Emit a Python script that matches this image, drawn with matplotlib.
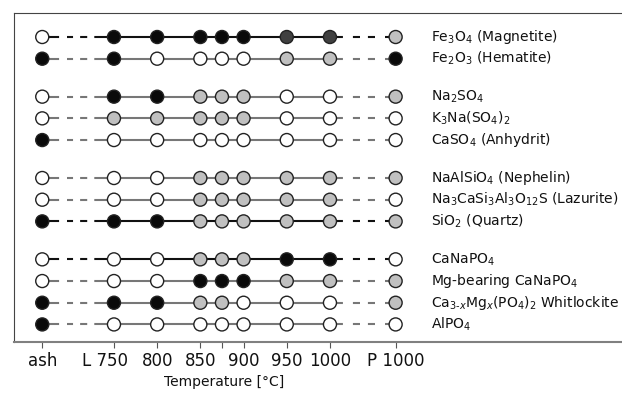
import numpy as np
import matplotlib
matplotlib.use("Agg")
import matplotlib.pyplot as plt
import matplotlib.transforms as mtransforms

# x positions (temperature scale, ash and P 1000 placed off-scale)
x_pos = [667, 750, 800, 850, 875, 900, 950, 1000, 1076]
x_labels = ["ash", "L 750", "800", "850", "", "900", "950", "1000", "P 1000"]

minerals = [
    "Fe$_3$O$_4$ (Magnetite)",
    "Fe$_2$O$_3$ (Hematite)",
    "Na$_2$SO$_4$",
    "K$_3$Na(SO$_4$)$_2$",
    "CaSO$_4$ (Anhydrit)",
    "NaAlSiO$_4$ (Nephelin)",
    "Na$_3$CaSi$_3$Al$_3$O$_{12}$S (Lazurite)",
    "SiO$_2$ (Quartz)",
    "CaNaPO$_4$",
    "Mg-bearing CaNaPO$_4$",
    "Ca$_{3\\text{-}x}$Mg$_x$(PO$_4$)$_2$ Whitlockite",
    "AlPO$_4$",
]
# row positions, groups separated by a gap
rows = [0, 1, 2.75, 3.75, 4.75, 6.5, 7.5, 8.5, 10.25, 11.25, 12.25, 13.25]

# W = white, B = black, G = grey, D = dark grey
states = [
    "WBBBBBDDG",
    "BBWWWWGGB",
    "WBBGGGWWG",
    "WGGGGGWWW",
    "BWWWWWWWW",
    "WWWGGGGGG",
    "WWWGGGGGW",
    "BBBGGGGGG",
    "WWWGGGBBW",
    "WWWBBBGGG",
    "BBBGGWWWG",
    "BWWWWWWWW",
]
line_col = ["k", "g", "g", "g", "g", "g", "g", "k", "k", "g", "g", "g"]

fill = {"W": "white", "B": "#0a0a0a", "G": "#c0c0c0", "D": "#404040"}
lcol = {"k": "#111111", "g": "#777777"}

# dash patterns: solid next to marker, two short dashes, solid to next marker
dash_l = (0, (8.2, 3.8, 2.9, 3.4, 3.4, 3.4, 9.6, 1.0))
dash_r = (0, (6.2, 4.8, 3.4, 3.8, 3.4, 4.8, 5.3, 1.0))

fig = plt.figure(figsize=(6.22, 3.98), dpi=100)
ax = fig.add_axes([0.0225, 0.1407, 0.9775, 0.8266])

for y, st, lc in zip(rows, states, line_col):
    c = lcol[lc]
    ax.plot(x_pos[1:8], [y] * 7, color=c, lw=1.5, zorder=1)
    ax.plot(x_pos[0:2], [y, y], color=c, lw=1.5, ls=dash_l, zorder=1)
    ax.plot(x_pos[7:9], [y, y], color=c, lw=1.5, ls=dash_r, zorder=1)
    ax.scatter(x_pos, [y] * len(x_pos), s=88, c=[fill[s] for s in st],
               edgecolors="#222222", linewidths=1.0, zorder=3)

for y, name in zip(rows, minerals):
    ax.text(1117, y, name, va="center", ha="left", fontsize=10, color="#111111")

ax.set_xlim(634.3, 1338)
ax.set_ylim(14.06, -1.106)
ax.set_xticks(x_pos)
ax.set_xticklabels(x_labels, fontsize=12, color="#111111")
ax.set_yticks([])
ax.tick_params(axis="x", direction="out", length=4, color="#555555", pad=3)
ax.set_xlabel("Temperature [°C]", fontsize=10, color="#111111")
ax.xaxis.set_label_coords(0.345, -0.10)

# "L 750" sits a little left of its tick
lbl = ax.get_xticklabels()[1]
lbl.set_transform(lbl.get_transform() +
                  mtransforms.ScaledTranslation(-9 / 100, 0, fig.dpi_scale_trans))

ax.spines["right"].set_visible(False)
ax.spines["bottom"].set_color("#808080")
ax.spines["bottom"].set_linewidth(1.5)
ax.spines["left"].set_color("#444444")
ax.spines["top"].set_color("#444444")

fig.savefig("out.png", dpi=100)
